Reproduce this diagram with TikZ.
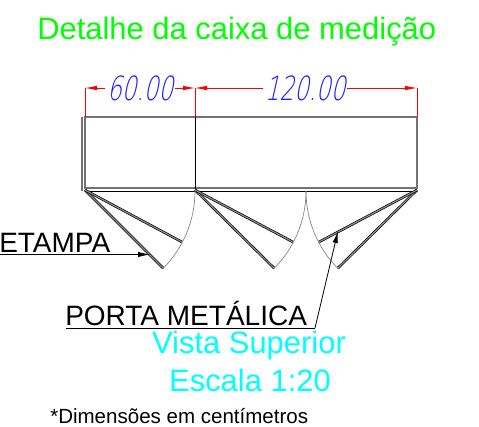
\documentclass[tikz,border=0pt]{standalone}
\usepackage{fontspec}
\setmainfont{Liberation Sans}
\newfontfamily\dimfont[FakeSlant=0.22,FakeStretch=0.69]{DejaVu Sans ExtraLight}
\usetikzlibrary{arrows.meta}
\definecolor{titlegreen}{RGB}{0,255,0}
\definecolor{viewcyan}{RGB}{0,255,255}
\definecolor{dimblue}{RGB}{30,30,255}
\begin{document}
\begin{tikzpicture}[x=0.75pt,y=-0.75pt,
  wall/.style={draw=black!55,line width=0.9pt},
  door/.style={draw=black,line width=0.5pt,double=black!45,double distance=0.9pt},
  swing/.style={draw=black!50,line width=0.5pt},
  dimline/.style={draw=red,line width=0.6pt},
  dimtip/.style={-{Latex[length=9pt,width=3.5pt]},draw=red,fill=red,line width=0.6pt},
  leader/.style={draw=black,line width=0.6pt},
  leadtip/.style={-{Latex[length=9pt,width=4pt]},draw=black,line width=0.6pt},
  dimtext/.style={text=dimblue,font=\dimfont\fontsize{25}{25}\selectfont,inner sep=1pt,fill=white},
  label/.style={text=black,font=\fontsize{21}{22}\selectfont,inner sep=0pt}]
\useasboundingbox (0,0) rectangle (479,426);
\coordinate (hA) at (85,190); \coordinate (hB) at (195,190); \coordinate (hC) at (417,190);
% box
\draw[wall] (85,117) -- (417,117) -- (417,188) -- (85,188) -- cycle;
\draw[wall] (82,117) -- (82,191);
\draw[draw=black,line width=0.7pt] (85,191) -- (417,191);
\draw[draw=black,line width=0.7pt] (195,117) -- (195,191);
% doors
\draw[door] (hA) -- (163,268);
\draw[door] (hA) -- (182,242);
\draw[door] (hB) -- (274,268);
\draw[door] (hB) -- (293,242);
\draw[door] (hC) -- (338,268);
\draw[door] (hC) -- (319,242);
% swings
\draw[swing] (195,191) arc[start angle=0,end angle=45,radius=110];
\draw[swing] (306,191) arc[start angle=0,end angle=45,radius=110];
\draw[swing] (306,191) arc[start angle=180,end angle=135,radius=110];
% dimensions
\coordinate (dL) at (85,88); \coordinate (dM) at (195,88); \coordinate (dR) at (417,88);
\draw[dimline] (dL) -- (85,117);
\draw[dimline] (dM) -- (195,117);
\draw[dimline] (dR) -- (417,117);
\node[dimtext] (dimA) at (140,88) {60.00};
\node[dimtext] (dimB) at (305,88) {120.00};
\draw[dimtip] (dimA) -- (dL);
\draw[dimtip] (dimA) -- (dM);
\draw[dimtip] (dimB) -- (dM);
\draw[dimtip] (dimB) -- (dR);
% labels
\node[anchor=base west,text=titlegreen,font=\fontsize{23.2}{25}\selectfont,inner sep=0pt] (title) at (37,39) {Detalhe da caixa de medição};
\node[label,anchor=base west] (etampa) at (-1,252) {ETAMPA};
\node[label,anchor=base west] (porta) at (65,325) {PORTA METÁLICA};
\coordinate (etampaEnd) at (0,254.5); \coordinate (etampaTip) at (150,254.5);
\draw[leadtip] (etampaEnd) -- (etampaTip);
\coordinate (portaStart) at (66,328); \coordinate (portaKnee) at (315,328); \coordinate (portaTip) at (338,231);
\draw[leader] (portaStart) -- (portaKnee);
\draw[leadtip] (portaKnee) -- (portaTip);
\node[anchor=base,text=viewcyan,font=\fontsize{23.2}{25}\selectfont,inner sep=0pt] (vista) at (249,353) {Vista Superior};
\node[anchor=base,text=viewcyan,font=\fontsize{23.2}{25}\selectfont,inner sep=0pt] (escala) at (250,391) {Escala 1:20};
\node[anchor=base west,text=black,font=\fontsize{15.4}{16}\selectfont,inner sep=0pt] (nota) at (50,423) {*Dimensões em centímetros};
\end{tikzpicture}
\end{document}
